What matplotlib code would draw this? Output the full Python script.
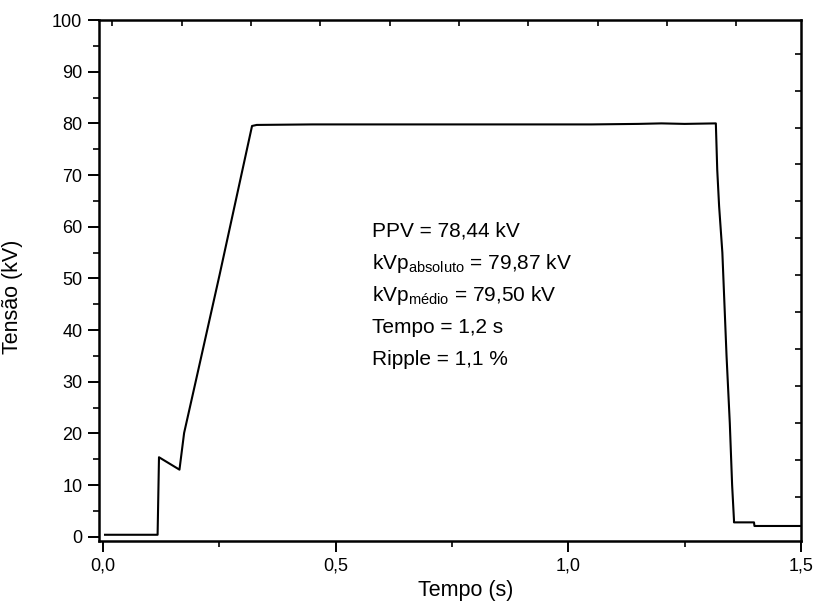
import matplotlib
matplotlib.use("Agg")
import matplotlib.pyplot as plt
from matplotlib.ticker import MultipleLocator, FixedLocator, NullFormatter
import numpy as np

plt.rcParams['font.family'] = ['Liberation Sans', 'DejaVu Sans']

# Data
tempo = [0.004, 0.117, 0.120, 0.164, 0.174, 0.200, 0.250, 0.320, 0.330,
         0.450, 0.600, 0.750, 0.900, 1.050, 1.150, 1.200, 1.250, 1.317,
         1.320, 1.324, 1.331, 1.340, 1.347, 1.352, 1.356, 1.356, 1.399,
         1.400, 1.500]
tensao = [0.4, 0.4, 15.4, 13.0, 20.1, 30.5, 50.6, 79.5, 79.7,
          79.8, 79.8, 79.8, 79.8, 79.8, 79.9, 80.0, 79.9, 80.0,
          71.0, 64.0, 55.0, 35.0, 22.0, 10.0, 3.2, 2.8, 2.8,
          2.1, 2.1]

x_ticks = [0.0, 0.5, 1.0, 1.5]
x_tick_labels = ["0,0", "0,5", "1,0", "1,5"]
y_ticks = [0, 10, 20, 30, 40, 50, 60, 70, 80, 90, 100]

info_lines = [
    "PPV = 78,44 kV",
    r"kVp$_{\mathregular{absoluto}}$ = 79,87 kV",
    r"kVp$_{\mathregular{médio}}$ = 79,50 kV",
    "Tempo = 1,2 s",
    "Ripple = 1,1 %",
]

fig = plt.figure(figsize=(8.14, 6.16), dpi=100)
ax = fig.add_axes([0.1216, 0.1218, 0.8624, 0.8457])

ax.plot(tempo, tensao, color='black', linewidth=1.5)

ax.set_xlim(-0.009, 1.5)
ax.set_ylim(-0.8, 100)

ax.set_xticks(x_ticks)
ax.set_xticklabels(x_tick_labels)
ax.xaxis.set_minor_locator(MultipleLocator(0.25))
ax.set_yticks(y_ticks)
ax.yaxis.set_minor_locator(MultipleLocator(5))

ax.tick_params(axis='both', which='major', direction='out', length=8, width=1.4,
               labelsize=13, colors='black', pad=4)
ax.tick_params(axis='both', which='minor', direction='out', length=4, width=1.2)
ax.tick_params(axis='x', which='major', pad=4)

for s in ax.spines.values():
    s.set_linewidth(1.8)

# top and right ticks (inward) as seen in the scan
axt = ax.twiny()
axt.set_xlim(ax.get_xlim())
axt.xaxis.set_major_locator(FixedLocator(np.arange(0.02, 1.5, 0.149)))
axt.xaxis.set_major_formatter(NullFormatter())
axt.tick_params(axis='x', direction='in', length=4, width=1.2)
axr = ax.twinx()
axr.set_ylim(ax.get_ylim())
axr.yaxis.set_major_locator(FixedLocator(np.arange(7.7, 95, 7.15)))
axr.yaxis.set_major_formatter(NullFormatter())
axr.tick_params(axis='y', direction='in', length=4, width=1.2)
for a in (axt, axr):
    for s in a.spines.values():
        s.set_visible(False)

ax.set_xlabel("Tempo (s)", fontsize=15.5)
ax.set_ylabel("Tensão (kV)", fontsize=15.5)
ax.xaxis.set_label_coords(0.523, -0.075)
ax.yaxis.set_label_coords(-0.108, 0.468)

y0 = 0.595
dy = 0.0615
for i, line in enumerate(info_lines):
    ax.text(0.389, y0 - i * dy, line, transform=ax.transAxes, fontsize=15,
            va='center', ha='left', color='black')

fig.savefig("out.png", dpi=100)
